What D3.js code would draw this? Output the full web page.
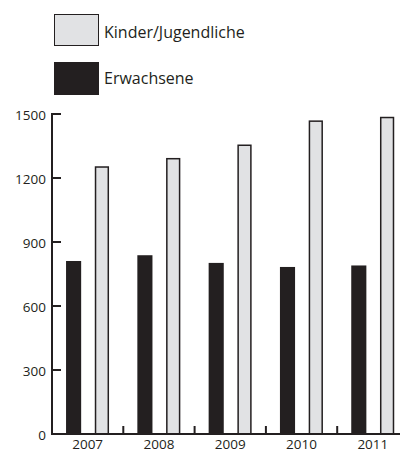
<!DOCTYPE html>
<html><head><meta charset="utf-8">
<script src="https://cdn.jsdelivr.net/npm/d3@7"></script>
<style>body{margin:0;background:#fff}svg{display:block}</style>
</head><body>
<script>
const years = ["2007","2008","2009","2010","2011"];
const kinder = [1255, 1294, 1357, 1470, 1487];
const erwachsene = [811, 838, 802, 783, 790];
const yTicks = [0, 300, 600, 900, 1200, 1500];
const seriesNames = ["Kinder/Jugendliche", "Erwachsene"];

const W = 400, H = 452;
const dark = "#231f20", light = "#e1e2e4";
const svg = d3.select("body").append("svg").attr("width", W).attr("height", H);
const font = "'Open Sans', sans-serif";

const x = d3.scaleBand().domain(years).range([52, 408.5]);
const y = d3.scaleLinear().domain([0, 1500]).range([434, 114]);

// bars
const g = svg.append("g");
g.selectAll("rect.e").data(years).enter().append("rect")
  .attr("x", d => x(d) + x.bandwidth() * 0.197)
  .attr("width", x.bandwidth() * 0.212)
  .attr("y", (d, i) => y(erwachsene[i]))
  .attr("height", (d, i) => y(0) - y(erwachsene[i]))
  .attr("fill", dark);
g.selectAll("rect.k").data(years).enter().append("rect")
  .attr("x", d => x(d) + x.bandwidth() * 0.6 + 0.75)
  .attr("width", x.bandwidth() * 0.2 - 1.5)
  .attr("y", (d, i) => y(kinder[i]) + 0.75)
  .attr("height", (d, i) => y(0) - y(kinder[i]) - 0.75)
  .attr("fill", light).attr("stroke", dark).attr("stroke-width", 1.5);

// y axis
const ya = svg.append("g");
ya.append("line").attr("x1", 52).attr("x2", 52).attr("y1", y(1500) - 1).attr("y2", y(0) + 1)
  .attr("stroke", dark).attr("stroke-width", 2);
ya.selectAll("line.t").data(yTicks).enter().append("line")
  .attr("x1", 52).attr("x2", 61).attr("y1", d => y(d)).attr("y2", d => y(d))
  .attr("stroke", dark).attr("stroke-width", 2);
ya.selectAll("text").data(yTicks).enter().append("text")
  .attr("x", 46).attr("y", d => y(d) + 1).attr("dy", "0.35em")
  .attr("text-anchor", "end").attr("font-family", font).attr("font-size", 13.5)
  .attr("fill", dark).text(d => d);

// x axis
const xa = svg.append("g");
xa.append("line").attr("x1", 51).attr("x2", 400).attr("y1", y(0)).attr("y2", y(0))
  .attr("stroke", dark).attr("stroke-width", 2);
xa.selectAll("line.t").data(years.slice(1)).enter().append("line")
  .attr("x1", d => x(d)).attr("x2", d => x(d)).attr("y1", y(0)).attr("y2", y(0) - 8)
  .attr("stroke", dark).attr("stroke-width", 2);
xa.selectAll("text").data(years).enter().append("text")
  .attr("x", d => x(d) + x.bandwidth() / 2).attr("y", 449)
  .attr("text-anchor", "middle").attr("font-family", font).attr("font-size", 13.5)
  .attr("fill", dark).text(d => d);

// legend
const lg = svg.append("g");
const legY = [14, 62];
lg.selectAll("rect").data(seriesNames).enter().append("rect")
  .attr("x", (d, i) => i === 0 ? 54.5 : 54).attr("y", (d, i) => i === 0 ? legY[i] + 0.5 : legY[i])
  .attr("width", (d, i) => i === 0 ? 44 : 45).attr("height", (d, i) => i === 0 ? 31 : 33)
  .attr("fill", (d, i) => i === 0 ? light : dark)
  .attr("stroke", (d, i) => i === 0 ? dark : "none").attr("stroke-width", 1);
lg.selectAll("text").data(seriesNames).enter().append("text")
  .attr("x", 104).attr("y", (d, i) => [37.5, 83.5][i])
  .attr("font-family", font).attr("font-size", 16).attr("fill", dark).text(d => d);
</script>
</body></html>
